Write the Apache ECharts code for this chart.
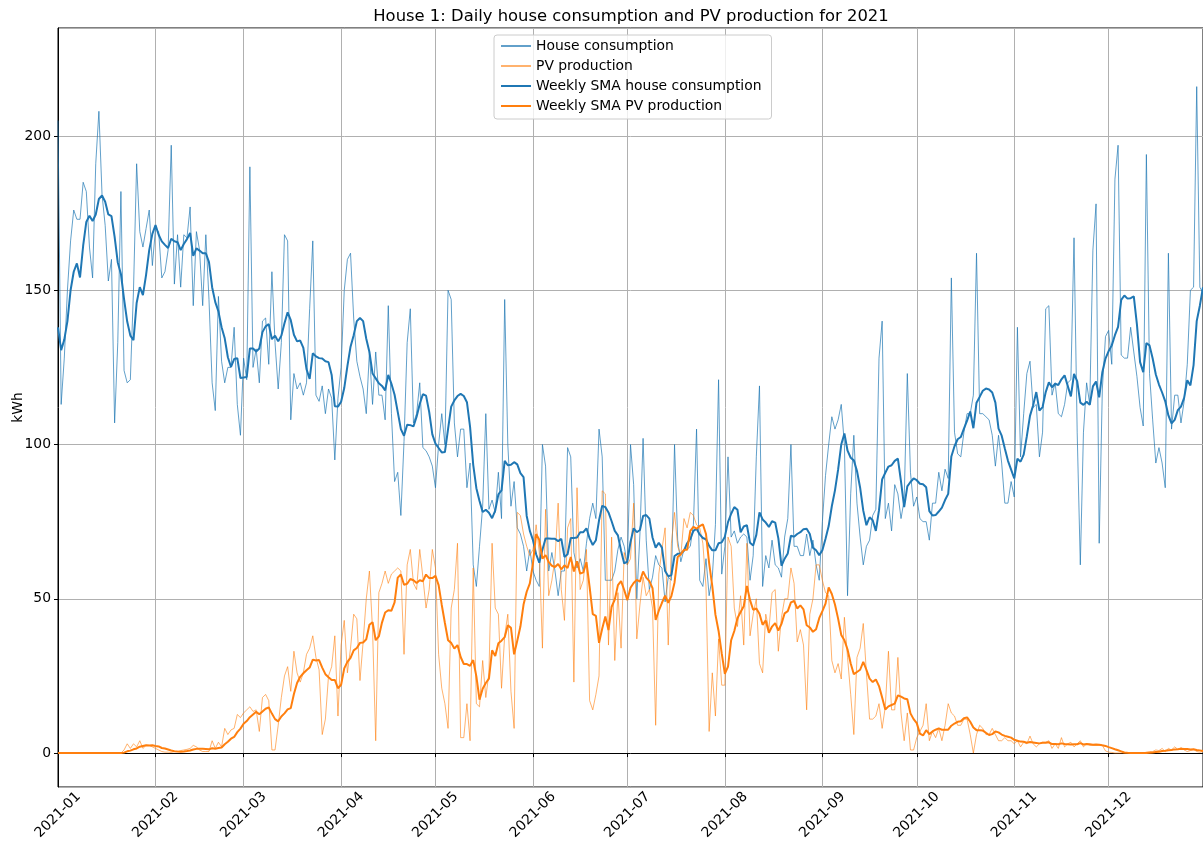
<!DOCTYPE html>
<html>
<head>
<meta charset="utf-8">
<title>House 1: Daily house consumption and PV production for 2021</title>
<script src="https://cdn.jsdelivr.net/npm/echarts@6/dist/echarts.min.js"></script>
<style>
html, body { margin: 0; padding: 0; background: #fff; }
#main { width: 1203px; height: 844px; }
</style>
</head>
<body>
<div id="main"></div>
<script>
// daily house consumption (kWh), one array per month
var houseJan = [205,113,128,150,166,176,173,173,185,182,164,154,191,208,181,171,153,160,107,133,182,124,120,121,150,191,169,164,170,176,158];
var houseFeb = [170,169,154,156,163,197,152,168,151,168,167,177,145,169,163,145,168,147,120,111,148,127,120,125,125,138,113,103];
var houseMar = [128,121,190,125,131,120,140,141,126,156,133,118,133,168,166,108,123,118,120,116,120,144,166,116,114,119,110,118,115,95,115];
var houseApr = [125,150,160,162,141,127,122,118,110,130,113,130,116,116,108,145,110,88,91,77,101,133,144,107,110,120,99,98,96,93];
var houseMay = [86,100,110,100,150,147,107,96,105,105,86,94,61,54,67,80,110,79,82,78,91,76,147,100,80,88,73,71,67,59,66];
var houseJun = [59,56,54,100,93,59,65,59,51,59,59,99,96,65,60,63,59,68,76,81,76,105,96,56,56,56,59,66,70,67];
var houseJul = [61,100,87,50,71,102,69,53,57,64,61,60,49,57,56,100,69,62,66,66,67,74,105,56,54,63,51,57,74,121,58];
var houseAug = [67,96,70,72,68,70,71,70,56,64,96,119,54,64,60,69,61,60,57,70,76,100,67,67,64,64,71,64,69,61,56];
var houseSep = [75,90,100,109,105,108,113,100,51,84,103,81,70,61,67,69,77,79,128,140,76,81,72,87,84,76,82,123,91,80];
var houseOct = [83,76,75,75,69,81,81,91,85,92,89,154,104,97,96,104,110,110,116,162,110,110,109,108,103,93,103,94,81,81,88];
var houseNov = [83,138,96,110,123,127,112,113,96,104,144,145,116,120,110,109,113,120,121,167,104,61,104,120,113,163,178,68,118,135];
var houseDec = [137,126,186,197,129,128,128,138,130,122,112,106,194,123,108,94,99,94,86,162,105,116,116,107,114,126,150,151,216,151,149];
// last days of 2020 (not drawn), read back from where the weekly average starts
var housePrior = [165,104,108,96,134,154];

// daily PV production (kWh)
var pvJan = [0,0,0,0,0,0,0,0,0,0,0,0,0,0,0,0,0,0,0,0,0,1,3,1.5,3,2,4,1.5,2.5,2.5,2];
var pvFeb = [1.5,1,0.5,0.3,0.3,0.2,0.5,0.5,0.8,1,1.2,1.5,2.5,2,1,0.5,0.5,0.5,4,1.5,3.5,2,8,6,7.5,8,12.5,11.5];
var pvMar = [13,14,15,13.5,14,7,18,19,17,1,1,9,18,25,28,20,33,26,23,26,32,34,38,31,27,6,11,25,28,38,12];
var pvApr = [35,43,26,34,45,43.5,23.5,36,50,59,40,4,52,55,59,55,58,59,60,59,32,61,66,55,53,66,57,47,53,66];
var pvMay = [60,32,21,16,8,47,53,68,5,5,16,4,60,16,15,30,18,26,68,47,45,21,38,45,20,8,78,77,71,67,64];
var pvJun = [66,74,65,34,79,51,56,63,81,53,43,73,76,23,86,53,56,66,17,14,19,25,85,84,35,70,30,52,34,65];
var pvJul = [61,63,81,37,48,57,51,53,47,9,58,66,73,35,68,78,67,64,76,73,78,77,74,73,68,54,7,26,12,37,22];
var pvAug = [22,70,67,47,41,51,35,68,38,45,50,29,26,45,40,52,53,33,44,50,50,60,55,36,40,35,14,45,50,61,61];
var pvSep = [56,52,51,30,26,29,24,44,31,19,6,31,34,42,26,11,11,12,16,8,15,33,14,14,31,13,4,13,1,1];
var pvOct = [5,7,9,16,4,7,5,8,4,9,16,13,12,9,9,11,11,6,0,6,9,8,6,6,8,6,4,4,5,4,4];
var pvNov = [3,4,2,3.5,3,5.5,3,2,3,3.5,3.5,4,1.5,3,1.5,5,2,3,3.5,2,3,4,2,3,2.5,2.5,2.5,2.5,2.5,0.7];
var pvDec = [0.3,0.2,0,0,0,0,0,0,0,0,0,0,0.3,0.5,0.5,1,0.8,1.5,0.5,1.5,1,2,1.2,1.8,1,0.5,0.8,1.2,0.5,0.3,0.5];
var pvPrior = [0,0,0,0,0,0];

var house = [].concat(houseJan, houseFeb, houseMar, houseApr, houseMay, houseJun,
                      houseJul, houseAug, houseSep, houseOct, houseNov, houseDec);
var pv = [].concat(pvJan, pvFeb, pvMar, pvApr, pvMay, pvJun,
                   pvJul, pvAug, pvSep, pvOct, pvNov, pvDec);

// days of 2021
var days = [];
var d = new Date(Date.UTC(2021, 0, 1));
for (var i = 0; i < house.length; i++) {
	days.push(d.toISOString().slice(0, 10));
	d.setUTCDate(d.getUTCDate() + 1);
}

// weekly simple moving average (trailing 7 days, using the days before Jan 1)
function sma(prior, arr, n) {
	var all = prior.concat(arr);
	var out = [];
	for (var i = prior.length; i < all.length; i++) {
		var s = 0, c = 0;
		for (var j = Math.max(0, i - n + 1); j <= i; j++) { s += all[j]; c++; }
		out.push(+(s / c).toFixed(2));
	}
	return out;
}
var houseSma = sma(housePrior, house, 7);
var pvSma = sma(pvPrior, pv, 7);

var font = 'DejaVu Sans';
var monthStart = function (index, value) { return value.slice(8) === '01'; };

var chart = echarts.init(document.getElementById('main'));
chart.setOption({
	animation: false,
	backgroundColor: '#fff',
	title: {
		text: 'House 1: Daily house consumption and PV production for 2021',
		left: 631,
		top: 9,
		textAlign: 'center',
		padding: 0,
		textStyle: { fontFamily: font, fontSize: 16.4, fontWeight: 'normal', color: '#000' }
	},
	legend: {
		orient: 'vertical',
		left: 494,
		top: 35,
		itemWidth: 30,
		itemHeight: 14,
		itemGap: 6,
		padding: [4, 10, 6, 6],
		backgroundColor: 'rgba(255,255,255,0.8)',
		borderColor: '#cccccc',
		borderWidth: 1,
		borderRadius: 3,
		// hide the marker drawn in the middle of each legend line
		itemStyle: { opacity: 0 },
		textStyle: { fontFamily: font, fontSize: 13.9, color: '#000' },
		data: ['House consumption', 'PV production', 'Weekly SMA house consumption', 'Weekly SMA PV production']
	},
	grid: {
		left: 58, right: 0, top: 28, bottom: 57,
		outerBoundsMode: 'none',
		containLabel: false,
		show: true, borderColor: '#000', borderWidth: 1, backgroundColor: 'transparent'
	},
	xAxis: {
		type: 'category',
		data: days,
		boundaryGap: false,
		axisLine: { lineStyle: { color: '#000', width: 1 } },
		axisTick: { show: true, interval: monthStart, length: 4, lineStyle: { color: '#000' } },
		axisLabel: {
			interval: monthStart,
			formatter: function (v) { return v.slice(0, 7); },
			rotate: 45,
			align: 'center',
			verticalAlign: 'middle',
			margin: 28,
			fontFamily: font,
			fontSize: 13.9,
			color: '#000'
		},
		splitLine: { show: true, interval: monthStart, lineStyle: { color: '#b0b0b0', width: 1 } }
	},
	yAxis: {
		type: 'value',
		min: -11,
		max: 235,
		splitNumber: 5,
		name: 'kWh',
		nameLocation: 'middle',
		nameGap: 33,
		nameMoveOverlap: false,
		nameTextStyle: { fontFamily: font, fontSize: 13.9, color: '#000' },
		axisLine: { show: true, lineStyle: { color: '#000', width: 1 } },
		axisTick: { show: true, length: 4, lineStyle: { color: '#000' } },
		axisLabel: { showMinLabel: false, showMaxLabel: false, margin: 7, fontFamily: font, fontSize: 13.9, color: '#000' },
		splitLine: { show: true, lineStyle: { color: '#b0b0b0', width: 1 } }
	},
	series: [
		{
			name: 'House consumption', type: 'line', data: house, symbol: 'none',
			itemStyle: { color: '#1f77b4' },
			lineStyle: { color: '#1f77b4', width: 1, opacity: 0.7 }
		},
		{
			name: 'PV production', type: 'line', data: pv, symbol: 'none',
			itemStyle: { color: '#ff7f0e' },
			lineStyle: { color: '#ff7f0e', width: 1, opacity: 0.6 }
		},
		{
			name: 'Weekly SMA house consumption', type: 'line', data: houseSma, symbol: 'none',
			itemStyle: { color: '#1f77b4' },
			lineStyle: { color: '#1f77b4', width: 2 }
		},
		{
			name: 'Weekly SMA PV production', type: 'line', data: pvSma, symbol: 'none',
			itemStyle: { color: '#ff7f0e' },
			lineStyle: { color: '#ff7f0e', width: 2 }
		}
	]
});

window.onresize = function () {
	chart.resize();
};
</script>
</body>
</html>
